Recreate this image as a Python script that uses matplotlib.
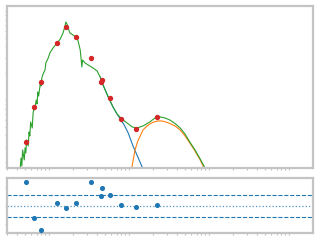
import numpy as np
import matplotlib
matplotlib.use('Agg')
import matplotlib.pyplot as plt

#%% Data (log10 of frequency / flux)

# observed spectrum + total model (green)
spec_lognu = [-0.36, -0.35, -0.34, -0.33, -0.31, -0.30, -0.29, -0.28, -0.26, -0.25,
              -0.24, -0.23, -0.21, -0.20, -0.19, -0.18, -0.16, -0.15, -0.14, -0.13,
              -0.11, -0.10, -0.09, -0.075, -0.05, -0.04, -0.01, 0.01, 0.05, 0.10,
              0.14, 0.175, 0.20, 0.21, 0.225, 0.24, 0.26, 0.30, 0.34, 0.36,
              0.39, 0.40, 0.41, 0.42, 0.45, 0.49, 0.55, 0.60, 0.64, 0.675,
              0.74, 0.80, 0.85, 0.91, 0.975, 1.04, 1.10, 1.175, 1.26, 1.325,
              1.39, 1.45, 1.51, 1.575, 1.64, 1.70, 1.76, 1.825, 1.89, 1.95, 1.96]
spec_logflux = [1.236, 1.348, 1.258, 1.438, 1.326, 1.461, 1.404, 1.551, 1.483, 1.640,
                1.596, 1.753, 1.685, 1.843, 1.910, 1.888, 2.000, 1.955, 2.090, 2.045,
                2.180, 2.157, 2.247, 2.292, 2.337, 2.416, 2.472, 2.528, 2.584, 2.640,
                2.685, 2.753, 2.831, 2.876, 2.854, 2.809, 2.753, 2.730, 2.708, 2.674,
                2.562, 2.472, 2.371, 2.449, 2.416, 2.393, 2.360, 2.326, 2.258, 2.169,
                2.034, 1.921, 1.843, 1.787, 1.742, 1.697, 1.685, 1.708, 1.753, 1.798,
                1.809, 1.798, 1.775, 1.736, 1.685, 1.618, 1.528, 1.438, 1.337, 1.236, 1.191]

# first component (blue)
comp1_lognu = [0.64, 0.675, 0.74, 0.80, 0.85, 0.89, 0.94, 0.99, 1.05, 1.11, 1.175, 1.21]
comp1_logflux = [2.258, 2.169, 2.034, 1.921, 1.843, 1.787, 1.719, 1.629, 1.483, 1.360, 1.225, 1.146]

# second component (orange)
comp2_lognu = [1.03, 1.05, 1.075, 1.11, 1.14, 1.175, 1.225, 1.26, 1.31, 1.36,
               1.41, 1.46, 1.51, 1.575, 1.64, 1.70, 1.76, 1.825, 1.89, 1.95]
comp2_logflux = [1.213, 1.315, 1.438, 1.539, 1.596, 1.663, 1.708, 1.730, 1.753, 1.764,
                 1.764, 1.753, 1.736, 1.708, 1.663, 1.596, 1.517, 1.427, 1.326, 1.213]

# photometry points (red) and residuals
phot_nu = [0.52, 0.655, 0.80, 1.27, 1.645, 2.19, 3.38, 4.51, 4.64, 5.84, 8.02, 12.3, 22.6]
phot_flux = [33.5, 82.8, 159, 434, 661, 506, 294, 159, 166, 104, 60.8, 46.9, 64.4]
resid = [1.32, -0.68, -1.35, 0.15, -0.13, 0.15, 1.32, 0.54, 0.98, 0.59, 0.04, -0.07, 0.04]

band = 0.6

#%% Plot

fig = plt.figure(figsize=(3.2, 2.4), dpi=100)
ax1 = fig.add_axes([0.022, 0.30, 0.956, 0.675])
ax2 = fig.add_axes([0.022, 0.029, 0.956, 0.229])

ax1.plot(10**np.array(comp1_lognu), 10**np.array(comp1_logflux), color='C0', lw=0.8)
ax1.plot(10**np.array(comp2_lognu), 10**np.array(comp2_logflux), color='C1', lw=0.8)
ax1.plot(10**np.array(spec_lognu), 10**np.array(spec_logflux), color='C2', lw=0.8)
ax1.scatter(phot_nu, phot_flux, color='C3', s=8, zorder=5)
ax1.set_xscale('log')
ax1.set_yscale('log')
ax1.set_xlim(0.2985, 1995)
ax1.set_ylim(17.2, 1138)

ax2.scatter(phot_nu, resid, color='C0', s=7, zorder=5)
ax2.axhline(band, color='C0', ls='--', lw=0.8)
ax2.axhline(-band, color='C0', ls='--', lw=0.8)
ax2.axhline(0, color='C0', ls=':', lw=0.9, alpha=0.8)
ax2.set_xscale('log')
ax2.set_xlim(0.2985, 1995)
ax2.set_ylim(-1.5, 1.55)
ax2.set_yticks([-1, 0, 1])

for ax in (ax1, ax2):
    for s in ax.spines.values():
        s.set_color('#c4c4c4')
        s.set_linewidth(1.6)
    ax.tick_params(which='both', colors='#c0c0c0', length=1.5, width=0.8,
                   labelleft=False, labelbottom=False)

plt.savefig('out.png', dpi=100)
